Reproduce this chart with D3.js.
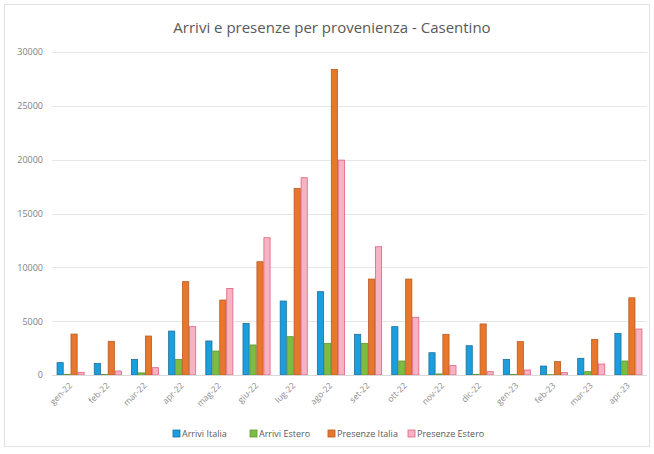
<!DOCTYPE html>
<html>
<head>
<meta charset="utf-8">
<script src="https://cdn.jsdelivr.net/npm/d3@7"></script>
<style>
  html, body { margin: 0; padding: 0; background: #fff; }
  svg { display: block; font-family: "Open Sans", "Liberation Sans", sans-serif; }
</style>
</head>
<body>
<svg id="chart" width="654" height="454"></svg>
<script>
// Monthly arrivals and overnight stays by origin, Casentino
const months = ["gen-22","feb-22","mar-22","apr-22","mag-22","giu-22","lug-22","ago-22",
                "set-22","ott-22","nov-22","dic-22","gen-23","feb-23","mar-23","apr-23"];
const arriviItalia   = [1150,1080,1450,4080,3160,4790,6870,7740,3780,4490,2070,2720,1450,830,1550,3870];
const arriviEstero   = [60,50,200,1450,2230,2790,3560,2940,2940,1300,100,60,60,30,310,1300];
const presenzeItalia = [3800,3130,3620,8670,6960,10520,17330,28380,8910,8910,3780,4740,3100,1240,3310,7170];
const presenzeEstero = [250,370,680,4490,8040,12750,18320,19960,11910,5360,870,310,460,220,1020,4270];
const yTicks = [0,5000,10000,15000,20000,25000,30000];

const seriesNames = ["Arrivi Italia","Arrivi Estero","Presenze Italia","Presenze Estero"];
const seriesValues = [arriviItalia, arriviEstero, presenzeItalia, presenzeEstero];
const fills   = ["#1a9fdc","#7dbb42","#e8772e","#f6b3c4"];
const strokes = ["#1f6e9e","#5f9a33","#b85a1e","#e0607f"];

const svg = d3.select("#chart");
const W = 654, H = 454;
const m = { left: 52, right: 7, top: 52, bottom: 79 };

// chart frame
svg.append("rect").attr("x", 4.5).attr("y", 4.5).attr("width", W - 9).attr("height", H - 12)
  .attr("fill", "#fff").attr("stroke", "#e2e2e2");

svg.append("text").attr("x", 332).attr("y", 33).attr("text-anchor", "middle")
  .attr("font-size", 15).attr("fill", "#595959")
  .text("Arrivi e presenze per provenienza - Casentino");

const x0 = d3.scaleBand().domain(months).range([m.left, W - m.right]).paddingInner(0.25).paddingOuter(0.125);
const x1 = d3.scaleBand().domain(seriesNames).range([0, x0.bandwidth()]);
const y = d3.scaleLinear().domain([0, 30000]).range([H - m.bottom, m.top]);

// gridlines
svg.append("g").selectAll("line").data(yTicks).join("line")
  .attr("x1", m.left).attr("x2", W - m.right)
  .attr("y1", d => Math.round(y(d)) + 0.5).attr("y2", d => Math.round(y(d)) + 0.5)
  .attr("stroke", "#e6e6e6").attr("stroke-width", 1.2);

// y axis labels
const yAxis = d3.axisLeft(y).tickValues(yTicks).tickFormat(d3.format("d")).tickSize(0).tickPadding(9);
svg.append("g").attr("transform", `translate(${m.left},0)`).call(yAxis)
  .call(g => g.select(".domain").remove())
  .call(g => g.selectAll("text").attr("font-size", 9).attr("fill", "#7f7f7f")
    .attr("font-family", "'Open Sans', sans-serif"));

// bars
const groups = svg.append("g").selectAll("g").data(months).join("g")
  .attr("transform", d => `translate(${x0(d)},0)`);
groups.selectAll("rect").data((d, i) => seriesNames.map((s, k) => ({ s, k, v: seriesValues[k][i] })))
  .join("rect")
  .attr("x", d => x1(d.s) + 0.4)
  .attr("width", x1.bandwidth() - 0.8)
  .attr("y", d => y(d.v))
  .attr("height", d => y(0) - y(d.v))
  .attr("fill", d => fills[d.k])
  .attr("stroke", d => strokes[d.k])
  .attr("stroke-width", 0.8);

// baseline
svg.append("line").attr("x1", m.left).attr("x2", W - m.right)
  .attr("y1", y(0) + 0.5).attr("y2", y(0) + 0.5).attr("stroke", "#d9d9d9");

// x axis labels, rotated
const xAxis = d3.axisBottom(x0).tickSize(0).tickPadding(0);
svg.append("g").attr("transform", `translate(0,${y(0) + 9})`).call(xAxis)
  .call(g => g.select(".domain").remove())
  .call(g => g.selectAll("text")
    .attr("font-size", 8.5).attr("fill", "#8a8a8a")
    .attr("font-family", "'Open Sans', sans-serif")
    .attr("text-anchor", "end").attr("dy", "0.35em").attr("dx", 0)
    .attr("transform", "rotate(-45)"));

// legend
const legend = svg.append("g").attr("transform", "translate(173,434)");
const offsets = [0, 77, 155, 235];
seriesNames.forEach((s, k) => {
  const g = legend.append("g").attr("transform", `translate(${offsets[k]},0)`);
  g.append("rect").attr("x", 0).attr("y", -4).attr("width", 7).attr("height", 7)
    .attr("fill", fills[k]).attr("stroke", strokes[k]).attr("stroke-width", 0.8);
  g.append("text").attr("x", 9).attr("y", 0).attr("dy", "0.35em")
    .attr("font-size", 9).attr("fill", "#595959").text(s);
});
</script>
</body>
</html>
